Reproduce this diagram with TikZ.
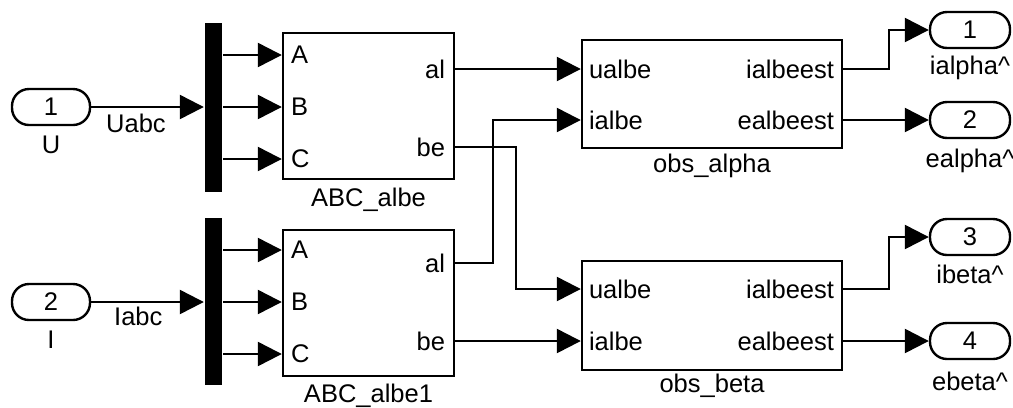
\documentclass[tikz,border=0pt]{standalone}
\usepackage{fontspec}
\setmainfont{Liberation Sans}
\usetikzlibrary{arrows.meta}
\begin{document}
\begin{tikzpicture}[x=1bp,y=-1bp, line width=2.4bp,
  fnt/.style={font=\fontsize{25.5bp}{30bp}\selectfont},
  port/.style={draw, rounded corners=17bp, minimum width=78bp, minimum height=36bp, inner sep=0pt, fnt},
  blk/.style={draw, inner sep=0pt},
  bar/.style={fill=black, inner sep=0pt, minimum width=17bp},
  txt/.style={inner sep=0pt, fnt},
  sig/.style={-{Triangle[length=24bp,width=24bp]}}
]
\useasboundingbox (0,0) rectangle (1013,407);
% inports
\node[port] (in1) at (51,107) {1};
\node[port] (in2) at (51,302) {2};
\node[txt, anchor=base] (in1lab) at (51,153) {U};
\node[txt, anchor=base] (in2lab) at (51,348) {I};
% demux bars
\node[bar, minimum height=169bp] (dm1) at (213.5,107.5) {};
\node[bar, minimum height=167bp] (dm2) at (213.5,301.5) {};
% ABC blocks
\node[blk, minimum width=171bp, minimum height=146bp] (abc1) at (368.5,106) {};
\node[blk, minimum width=171bp, minimum height=146bp] (abc2) at (368.5,303) {};
\node[txt, anchor=base] (abc1lab) at (368.5,206) {ABC\_albe};
\node[txt, anchor=base] (abc2lab) at (368.5,402) {ABC\_albe1};
% obs blocks
\node[blk, minimum width=260bp, minimum height=108bp] (obsA) at (712,94) {};
\node[blk, minimum width=260bp, minimum height=109bp] (obsB) at (712,315.5) {};
\node[txt, anchor=base] (obsAlab) at (712,172) {obs\_alpha};
\node[txt, anchor=base] (obsBlab) at (712,392) {obs\_beta};
% outports
\node[port, minimum width=80bp] (out1) at (970,30) {1};
\node[port, minimum width=80bp] (out2) at (970,120) {2};
\node[port, minimum width=80bp] (out3) at (970,237) {3};
\node[port, minimum width=80bp] (out4) at (970,341) {4};
\node[txt, anchor=base] (out1lab) at (970,74) {ialpha\textasciicircum};
\node[txt, anchor=base] (out2lab) at (970,167) {ealpha\textasciicircum};
\node[txt, anchor=base] (out3lab) at (970,283) {ibeta\textasciicircum};
\node[txt, anchor=base] (out4lab) at (970,390) {ebeta\textasciicircum};
% port coordinates
\coordinate (a1A) at (abc1.west |- 0,55);
\coordinate (a1B) at (abc1.west |- 0,107);
\coordinate (a1C) at (abc1.west |- 0,159);
\coordinate (a1al) at (abc1.east |- 0,69);
\coordinate (a1be) at (abc1.east |- 0,147);
\coordinate (a2A) at (abc2.west |- 0,250);
\coordinate (a2B) at (abc2.west |- 0,302);
\coordinate (a2C) at (abc2.west |- 0,354);
\coordinate (a2al) at (abc2.east |- 0,263);
\coordinate (a2be) at (abc2.east |- 0,341);
\coordinate (oAu) at (obsA.west |- 0,69);
\coordinate (oAi) at (obsA.west |- 0,120);
\coordinate (oAie) at (obsA.east |- 0,69);
\coordinate (oAee) at (obsA.east |- 0,120);
\coordinate (oBu) at (obsB.west |- 0,289);
\coordinate (oBi) at (obsB.west |- 0,341);
\coordinate (oBie) at (obsB.east |- 0,289);
\coordinate (oBee) at (obsB.east |- 0,341);
% port labels
\foreach \c/\t in {a1A/A,a1B/B,a1C/C,a2A/A,a2B/B,a2C/C}
  \node[txt, anchor=west] at ([xshift=8bp]\c) {\t};
\foreach \c/\t in {a1al/al,a1be/be,a2al/al,a2be/be}
  \node[txt, anchor=east] at ([xshift=-9bp]\c) {\t};
\foreach \c/\t in {oAu/ualbe,oAi/ialbe,oBu/ualbe,oBi/ialbe}
  \node[txt, anchor=west] at ([xshift=7bp]\c) {\t};
\foreach \c/\t in {oAie/ialbeest,oAee/ealbeest,oBie/ialbeest,oBee/ealbeest}
  \node[txt, anchor=east] at ([xshift=-8bp]\c) {\t};
% signal labels
\node[txt, anchor=base west] (uabc) at (105,132) {Uabc};
\node[txt, anchor=base west] (iabc) at (113,325) {Iabc};
% connectors
\draw[sig] (in1.east) -- (in1.east -| dm1.west);
\draw[sig] (in2.east) -- (in2.east -| dm2.west);
\draw[sig] (dm1.east |- a1A) -- (a1A);
\draw[sig] (dm1.east |- a1B) -- (a1B);
\draw[sig] (dm1.east |- a1C) -- (a1C);
\draw[sig] (dm2.east |- a2A) -- (a2A);
\draw[sig] (dm2.east |- a2B) -- (a2B);
\draw[sig] (dm2.east |- a2C) -- (a2C);
\draw[sig] (a1al) -- (oAu);
\draw[sig] (a2al) -- ++(38,0) |- (oAi);
\draw[sig] (a1be) -- ++(61,0) |- (oBu);
\draw[sig] (a2be) -- (oBi);
\draw[sig] (oAie) -- ++(46,0) |- (out1.west);
\draw[sig] (oAee) -- (out2.west);
\draw[sig] (oBie) -- ++(46,0) |- (out3.west);
\draw[sig] (oBee) -- (out4.west);
\end{tikzpicture}
\end{document}
